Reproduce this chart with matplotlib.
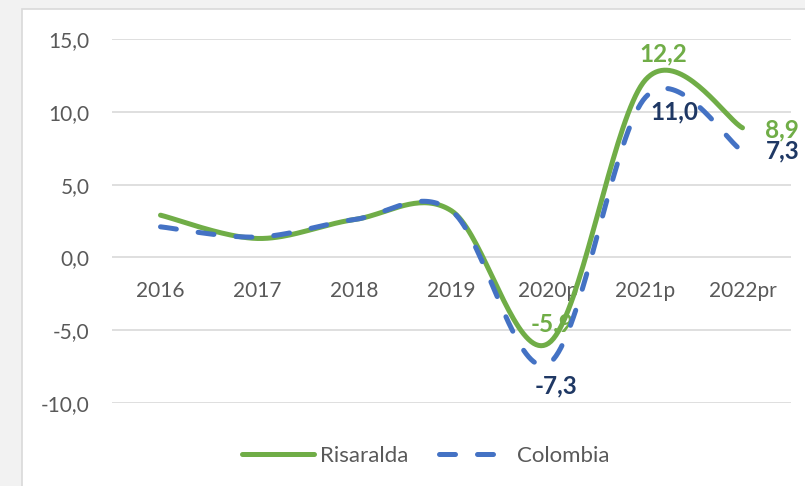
import numpy as np
import matplotlib
matplotlib.use("Agg")
import matplotlib.pyplot as plt
from matplotlib.patches import Rectangle

categories = ["2016", "2017", "2018", "2019", "2020p", "2021p", "2022pr"]
risaralda = [2.9, 1.3, 2.6, 3.2, -5.9, 12.2, 8.9]
colombia = [2.1, 1.4, 2.6, 3.2, -7.3, 11.0, 7.3]
y_ticks = [-10, -5, 0, 5, 10, 15]

GREEN = "#70AD47"
BLUE = "#4472C4"
NAVY = "#1F3864"
GRAY_TXT = "#595959"
GRID = "#D9D9D9"

plt.rcParams["font.family"] = ["Lato", "DejaVu Sans"]


def smooth(xs, ys, n=40):
    """Catmull-Rom smoothing (like Excel's smoothed line)."""
    xs = np.asarray(xs, float)
    ys = np.asarray(ys, float)
    px = np.concatenate([[xs[0]], xs, [xs[-1]]])
    py = np.concatenate([[ys[0]], ys, [ys[-1]]])
    outx, outy = [], []
    for i in range(1, len(px) - 2):
        p0x, p1x, p2x, p3x = px[i - 1], px[i], px[i + 1], px[i + 2]
        p0y, p1y, p2y, p3y = py[i - 1], py[i], py[i + 1], py[i + 2]
        c1x, c1y = p1x + (p2x - p0x) / 6, p1y + (p2y - p0y) / 6
        c2x, c2y = p2x - (p3x - p1x) / 6, p2y - (p3y - p1y) / 6
        t = np.linspace(0, 1, n)
        bx = (1 - t) ** 3 * p1x + 3 * (1 - t) ** 2 * t * c1x + 3 * (1 - t) * t ** 2 * c2x + t ** 3 * p2x
        by = (1 - t) ** 3 * p1y + 3 * (1 - t) ** 2 * t * c1y + 3 * (1 - t) * t ** 2 * c2y + t ** 3 * p2y
        outx.extend(bx if i == 1 else bx[1:])
        outy.extend(by if i == 1 else by[1:])
    return np.array(outx), np.array(outy)


W, H = 805, 486
fig = plt.figure(figsize=(W / 100, H / 100), dpi=100, facecolor="#F2F2F2")

# white chart box
box = Rectangle((22 / W, -0.01), 1.0, 1 - 9 / H + 0.01, transform=fig.transFigure,
                facecolor="white", edgecolor=GRID, linewidth=1.2, zorder=-10)
fig.patches.append(box)

ax = fig.add_axes([112 / W, 1 - 403 / H, 679 / W, (403 - 39) / H])
ax.set_zorder(5)
ax.set_facecolor("none")

x = np.arange(len(categories))
ax.set_xlim(-0.5, len(categories) - 0.5)
ax.set_ylim(-10, 15)

ax.set_yticks(y_ticks)
ax.set_yticklabels([f"{v:.1f}".replace(".", ",") for v in y_ticks])
ax.yaxis.grid(True, color=GRID, linewidth=1.2)
ax.set_axisbelow(True)
for s in ax.spines.values():
    s.set_visible(False)
ax.spines["bottom"].set_position(("data", 0))
ax.set_xticks(x)
ax.set_xticklabels(categories)
ax.tick_params(axis="both", length=0, colors=GRAY_TXT, labelsize=15)
ax.tick_params(axis="x", pad=17)
ax.tick_params(axis="y", pad=16)

rx, ry = smooth(x, risaralda)
cx, cy = smooth(x, colombia)
ax.plot(rx, ry, color=GREEN, lw=3.6, solid_capstyle="round", label="Risaralda", zorder=3)
ax.plot(cx, cy, color=BLUE, lw=3.6, dashes=(3.2, 4.4), dash_capstyle="round",
        label="Colombia", zorder=4)

# data labels (offsets in points)
def lab(i, vals, color, dx, dy, ha="center"):
    ax.annotate(f"{vals[i]:.1f}".replace(".", ","), (x[i], vals[i]), xytext=(dx, dy),
                textcoords="offset points", ha=ha, va="center", color=color,
                fontsize=17.5, fontweight="bold", zorder=3.5)

lab(4, risaralda, GREEN, 2.5, 14)
lab(5, risaralda, GREEN, 12.5, 18.5)
lab(6, risaralda, GREEN, 16.5, -1.2, ha="left")
lab(4, colombia, NAVY, 5.5, -16)
lab(5, colombia, NAVY, 21, -10.5)
lab(6, colombia, NAVY, 16.5, 0.2, ha="left")

leg = ax.legend(loc="center", bbox_to_anchor=(0.462, -0.145), ncol=2, frameon=False,
                fontsize=16, handlelength=3.25, handletextpad=0.27, columnspacing=1.35)
for t in leg.get_texts():
    t.set_color(GRAY_TXT)

fig.savefig("out.png", dpi=100, facecolor=fig.get_facecolor())
